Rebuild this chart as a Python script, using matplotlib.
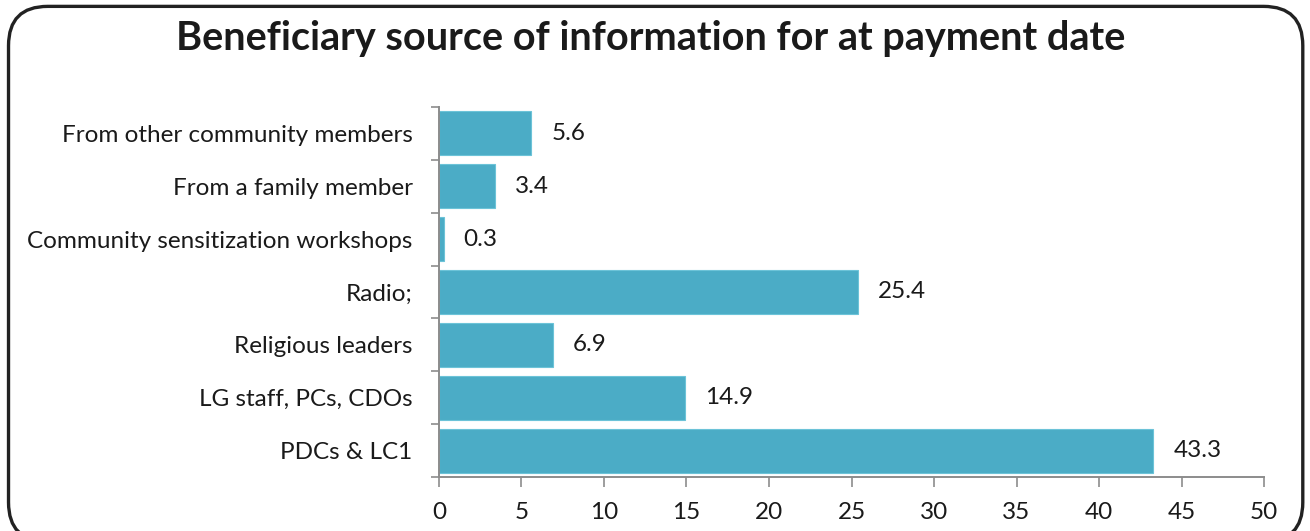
import matplotlib
matplotlib.use("Agg")
import matplotlib.pyplot as plt
from matplotlib.patches import FancyBboxPatch
import numpy as np

plt.rcParams['font.family'] = ['Lato', 'DejaVu Sans']

title = "Beneficiary source of information for at payment date"
categories = [
    "PDCs & LC1",
    "LG staff, PCs, CDOs",
    "Religious leaders",
    "Radio;",
    "Community sensitization workshops",
    "From a family member",
    "From other community members",
]
values = [43.3, 14.9, 6.9, 25.4, 0.3, 3.4, 5.6]
xticks = list(range(0, 51, 5))

bar_color = "#4BACC6"
axis_color = "#8C8C8C"
text_color = "#1A1A1A"

fig = plt.figure(figsize=(13.10, 5.31), dpi=100)

# rounded frame around the whole chart (bottom edge runs off the canvas)
frame = FancyBboxPatch((0.0065, -0.02), 0.988, 1.008,
                       boxstyle="round,pad=0,rounding_size=0.03",
                       transform=fig.transFigure, fill=False,
                       edgecolor="#222222", linewidth=2.4,
                       mutation_aspect=1310 / 531)
fig.patches.append(frame)

fig.text(0.497, 0.928, title, ha="center", va="center",
         fontsize=28.5, fontweight="bold", color=text_color)

ax = fig.add_axes([0.3351, 0.1017, 0.6298, 0.6968])
y = np.arange(len(categories))
ax.barh(y, values, height=0.83, color=bar_color, edgecolor="#6CC3D8",
        linewidth=0.8, zorder=2)

for yi, v in zip(y, values):
    ax.text(v + 1.2, yi, f"{v}", va="center", ha="left",
            fontsize=17.5, color=text_color)

ax.set_xlim(0, 50)
ax.set_ylim(-0.5, len(categories) - 0.5)
ax.set_xticks(xticks)
ax.set_xticklabels([str(t) for t in xticks], fontsize=17.5, color=text_color)

# category labels without tick marks; tick marks at category boundaries
ax.set_yticks(y)
ax.set_yticklabels(categories, fontsize=17.5, color=text_color)
ax.tick_params(axis="y", length=0, pad=19)
ax.set_yticks(np.arange(-0.5, len(categories), 1.0), minor=True)
ax.tick_params(axis="y", which="minor", length=6, width=1.2, color=axis_color,
               direction="out")
ax.tick_params(axis="x", length=7, width=1.2, color=axis_color,
               direction="out", pad=11)

for side in ["top", "right"]:
    ax.spines[side].set_visible(False)
for side in ["left", "bottom"]:
    ax.spines[side].set_color(axis_color)
    ax.spines[side].set_linewidth(1.4)

fig.savefig("out.png", dpi=100)
